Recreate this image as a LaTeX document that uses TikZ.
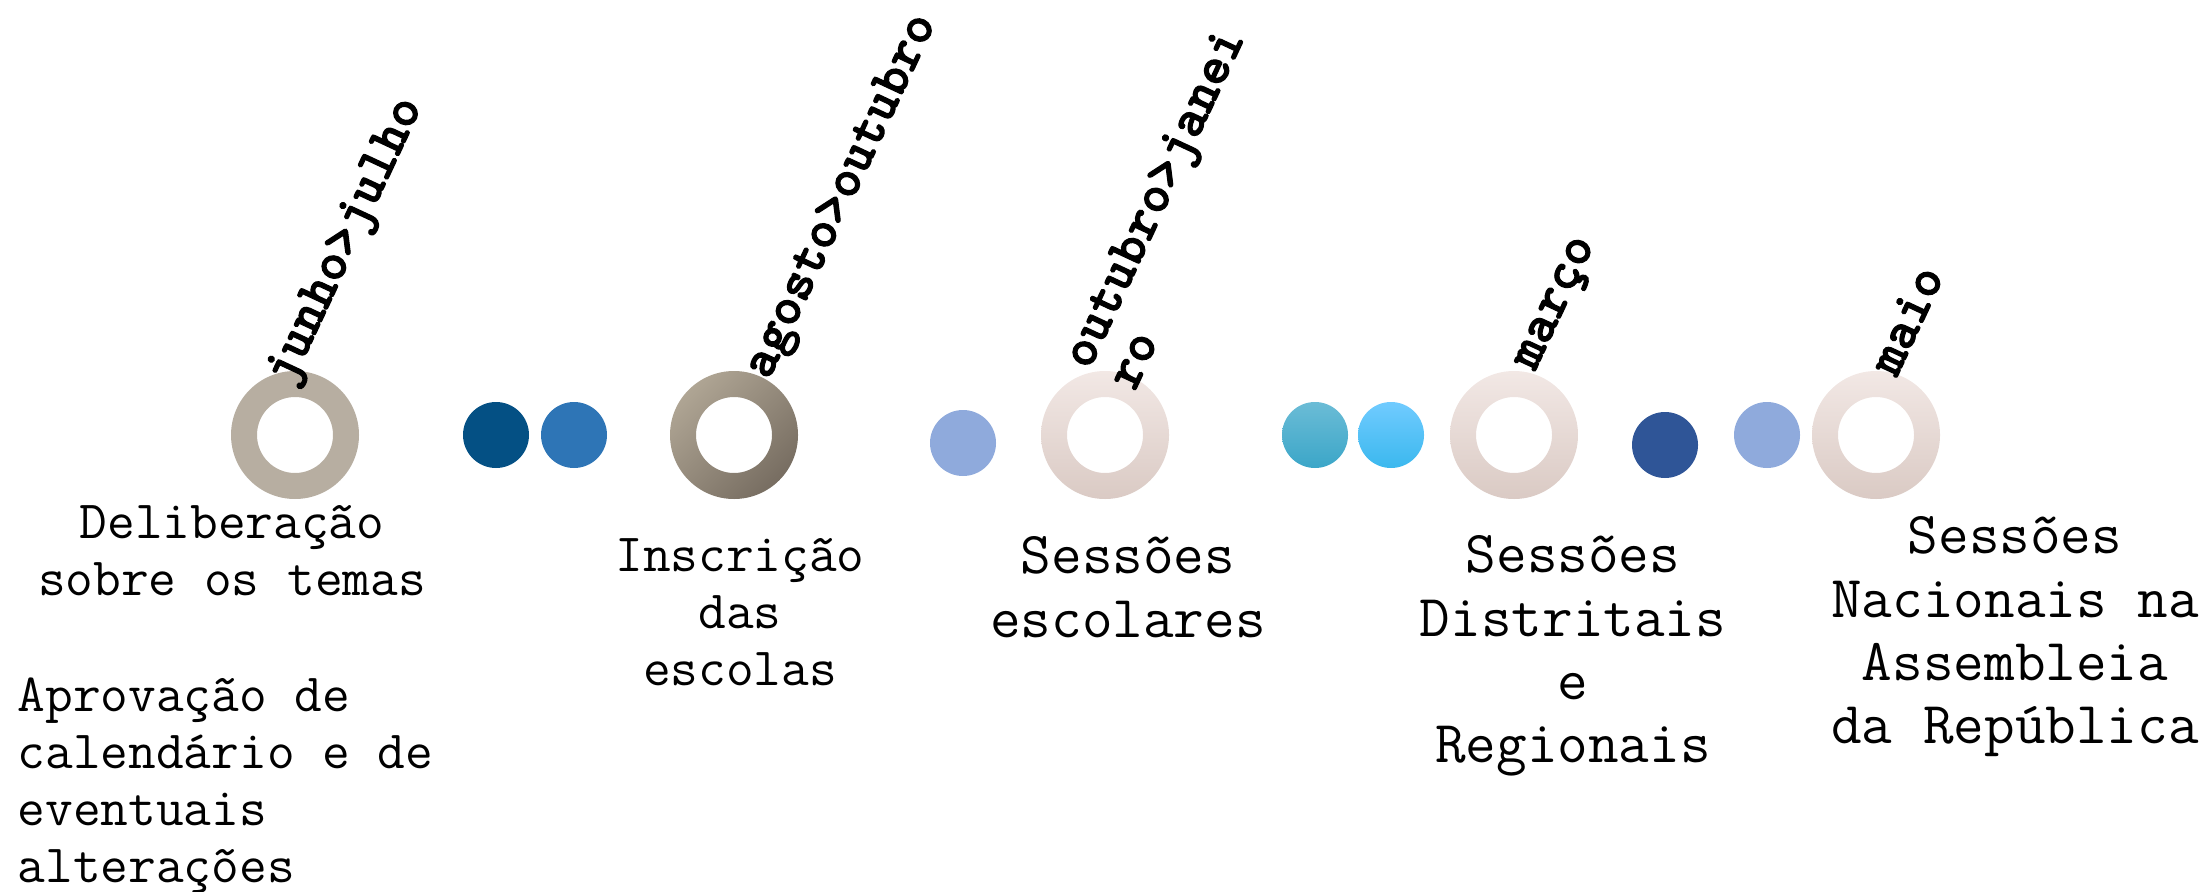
\documentclass[tikz,border=0pt]{standalone}
\usepackage{fontspec}
\newfontfamily\lblfont{lmmonolt10-bold.otf}[FakeBold=2]
\definecolor{stoneA}{HTML}{B7AEA1}
\definecolor{stoneB}{HTML}{AFA594}
\definecolor{stoneC}{HTML}{776D61}
\definecolor{roseA}{HTML}{F2E8E5}
\definecolor{roseB}{HTML}{DACAC4}
\definecolor{navyA}{HTML}{045084}
\definecolor{blueA}{HTML}{2E75B6}
\definecolor{blueB}{HTML}{8FAADC}
\definecolor{tealA}{HTML}{6BBCD6}
\definecolor{tealB}{HTML}{3BA6C8}
\definecolor{skyA}{HTML}{70CBFF}
\definecolor{skyB}{HTML}{3BB8EE}
\definecolor{navyB}{HTML}{2F5597}
\begin{document}
\begin{tikzpicture}[x=0.01cm,y=-0.01cm,
  monthlbl/.style={font=\lblfont\fontsize{15.3}{14.2}\selectfont, rotate=65, inner sep=0, align=left},
  stagetxt/.style={font=\ttfamily\fontsize{15.3}{16.2}\selectfont, align=center, anchor=north, inner sep=0},
  stagebig/.style={stagetxt, font=\ttfamily\fontsize{16.9}{18}\selectfont},
  rosering/.style={top color=roseA, bottom color=roseB, even odd rule}]
  \useasboundingbox (0,0) rectangle (2210,891);
  \coordinate (s1) at (295,435);
  \coordinate (s2) at (734,435);
  \coordinate (s3) at (1105,435);
  \coordinate (s4) at (1514,435);
  \coordinate (s5) at (1876,435);
  \fill[stoneA, even odd rule] (s1) circle[radius=64] circle[radius=38];
  \shade[top color=stoneB, bottom color=stoneC, shading angle=45, even odd rule]
  (s2) circle[radius=64] circle[radius=38];
  \shade[rosering] (s3) circle[radius=64] circle[radius=38];
  \shade[rosering] (s4) circle[radius=64] circle[radius=38];
  \shade[rosering] (s5) circle[radius=64] circle[radius=38];
  \fill[navyA] (496,435) circle[radius=33];
  \fill[blueA] (574,435) circle[radius=33];
  \fill[blueB] (963,443) circle[radius=33];
  \shade[top color=tealA, bottom color=tealB] (1315,435) circle[radius=33];
  \shade[top color=skyA, bottom color=skyB] (1391,435) circle[radius=33];
  \fill[navyB] (1665,445) circle[radius=33];
  \fill[blueB] (1767,435) circle[radius=33];
  \node[monthlbl] (m1) at (347,242) {junho>julho};
  \node[monthlbl] (m2) at (843,197) {agosto>outubro};
  \node[monthlbl] (m3) at (1175,208) {outubro>janei\\ro};
  \node[monthlbl] (m4) at (1559,305) {março};
  \node[monthlbl] (m5) at (1906,320) {maio};
  \node[stagetxt] (t1) at (232,505) {Deliberação\\sobre os temas};
  \node[stagetxt, anchor=north west, align=left] (t1b) at (17,677)
  {Aprovação de\\calendário e de\\eventuais\\alterações};
  \node[stagetxt] (t2) at (740,538) {Inscrição\\das\\escolas};
  \node[stagebig] (t3) at (1128,536) {Sessões\\escolares};
  \node[stagebig] (t4) at (1573,535) {Sessões\\Distritais\\e\\Regionais};
  \node[stagebig] (t5) at (2015,516) {Sessões\\Nacionais na\\Assembleia\\da República};
\end{tikzpicture}
\end{document}
